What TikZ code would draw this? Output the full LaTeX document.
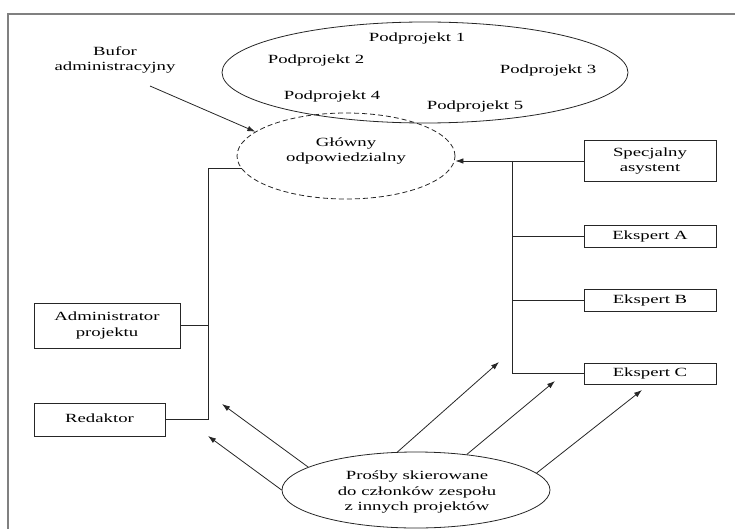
\documentclass[tikz,border=0pt]{standalone}
\usepackage{fontspec}
\usepackage{graphicx}
\setmainfont{Liberation Serif}
\usetikzlibrary{shapes.geometric,arrows.meta}
\newcommand\wt[1]{\scalebox{1.5}[1]{\begin{tabular}{@{}c@{}}#1\end{tabular}}}
\begin{document}
\begin{tikzpicture}[x=1pt,y=-1pt,
  every node/.style={font=\fontsize{12.5}{15.5}\selectfont, align=center, inner sep=0pt},
  conn/.style={line width=0.8pt, draw=black!85},
  arr/.style={conn, -{Latex[length=8pt,width=5.5pt]}},
  boxnode/.style={draw=black!85, line width=0.8pt, rectangle, minimum width=132pt},
  frameline/.style={line width=2pt, draw=black!50}]
\useasboundingbox (0,0) rectangle (735,529);
% frame
\draw[frameline] (8,529) -- (8,14) -- (735,14);
% project ellipse
\node[draw=black!85, line width=0.8pt, ellipse, minimum width=406pt, minimum height=101pt] (proj) at (425,72.5) {};
\node (p1) at (417,38) {\wt{Podprojekt 1}};
\node (p2) at (316,60) {\wt{Podprojekt 2}};
\node (p3) at (548,70) {\wt{Podprojekt 3}};
\node (p4) at (332,96) {\wt{Podprojekt 4}};
\node (p5) at (475,106) {\wt{Podprojekt 5}};
% buffer
\node (bufor) at (115,60) {\wt{Bufor\\administracyjny}};
\coordinate (bs) at (150,86);
% main responsible
\node[draw=black!85, line width=0.8pt, dash pattern=on 5pt off 3pt, ellipse, minimum width=218pt, minimum height=86pt] (glowny) at (346,156) {};
\node (glownyt) at (346,151) {\wt{Główny\\odpowiedzialny}};
\draw[arr] (bs) -- (glowny.165);
% left boxes
\node[boxnode, minimum width=146pt, minimum height=45pt] (admin) at (107,325.5) {\wt{Administrator\\projektu}};
\node[boxnode, minimum width=131pt, minimum height=33pt] (red) at (99.5,419.5) {\wt{Redaktor}};
\coordinate (lt) at (208,0);
\draw[conn] (glowny.187) -| (lt |- red.east) -- (red.east);
\draw[conn] (admin.east) -- (lt |- admin.east);
% right boxes
\node[boxnode, minimum height=41pt] (spec) at (650,161) {\wt{Specjalny\\asystent}};
\node[boxnode, minimum height=22pt] (ea) at (650,236) {\wt{Ekspert A}};
\node[boxnode, minimum height=22pt] (eb) at (650,300) {\wt{Ekspert B}};
\node[boxnode, minimum height=21pt] (ec) at (650,373.5) {\wt{Ekspert C}};
\coordinate (rt) at (512,0);
\draw[arr] (spec.west) -- (spec.west -| glowny.east);
\draw[conn] (rt |- spec.west) |- (ec.west);
\draw[conn] (rt |- ea.west) -- (ea.west);
\draw[conn] (rt |- eb.west) -- (eb.west);
% requests
\node[draw=black!85, line width=0.8pt, ellipse, minimum width=268pt, minimum height=76pt] (req) at (416,490) {};
\node (reqt) at (417,492) {\wt{Prośby skierowane\\do członków zespołu\\z innych projektów}};
\coordinate (t1) at (208,436);
\coordinate (t2) at (222,404);
\coordinate (t3) at (499,362);
\coordinate (t4) at (555,381);
\coordinate (t5) at (642,390);
\draw[arr] (req.180) -- (t1);
\draw[arr] (req.168) -- (t2);
\draw[arr] (req.116) -- (t3);
\draw[arr] (req.35) -- (t4);
\draw[arr] (req.8) -- (t5);
\end{tikzpicture}
\end{document}
